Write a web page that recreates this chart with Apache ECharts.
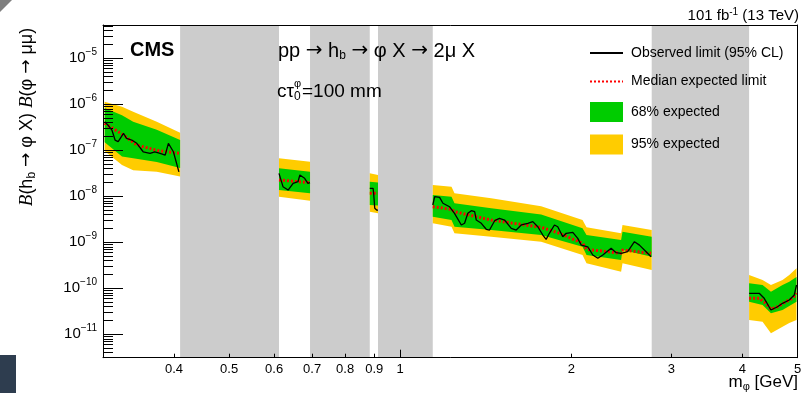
<!DOCTYPE html>
<html>
<head>
<meta charset="utf-8">
<script src="https://cdn.jsdelivr.net/npm/echarts@6/dist/echarts.min.js"></script>
<style>
  html, body { margin: 0; padding: 0; background: #fff; }
  #chart { width: 808px; height: 393px; }
</style>
</head>
<body>
<div id="chart"></div>
<script>
const FONT = '"Liberation Sans", Arial, Helvetica, sans-serif'

// mass windows that are masked (GeV)
const maskedRanges = [[0.41, 0.612], [0.694, 0.884], [0.914, 1.141], [2.77, 4.11]]

// observed limit, null separates the mass segments
const obsMass = [
  0.302, 0.306, 0.311, 0.315, 0.319, 0.326, 0.330, 0.337, 0.344, 0.353, 0.363, 0.370, 0.378, 0.386, 0.391, 0.399, 0.408, null,
  0.612, 0.622, 0.635, 0.648, 0.661, 0.666, 0.679, 0.688, 0.694, null,
  0.884, 0.887, 0.896, 0.898, 0.902, 0.910, 0.914, null,
  1.141, 1.150, 1.173, 1.189, 1.221, 1.246, 1.281, 1.298, 1.315, 1.334, 1.352, 1.361, 1.389, 1.417, 1.436,
  1.466, 1.495, 1.526, 1.568, 1.600, 1.633, 1.677, 1.711, 1.746, 1.782, 1.806, 1.830, 1.868, 1.893, 1.932,
  1.959, 2.012, 2.053, 2.082, 2.138, 2.182, 2.227, 2.272, 2.350, 2.398, 2.447, 2.513, 2.583, 2.636, 2.708, 2.763, null,
  4.11, 4.282, 4.369, 4.490, 4.612, 4.706, 4.836, 4.935, 4.98
]
const obsLimit = [
  4.19e-7, 3.55e-7, 2.76e-7, 1.67e-7, 1.54e-7, 2.34e-7, 1.82e-7, 1.67e-7, 1.42e-7, 9.3e-8, 8.6e-8, 9.3e-8, 8.6e-8, 7.9e-8, 1.42e-7, 9.3e-8, 3.4e-8, null,
  3.16e-8, 1.62e-8, 1.37e-8, 1.92e-8, 2.08e-8, 2.9e-8, 2.46e-8, 1.92e-8, 1.98e-8, null,
  1.49e-8, 1.49e-8, 1.49e-8, 1.16e-8, 5.5e-9, 5.0e-9, 5.0e-9, null,
  6.47e-9, 9.8e-9, 9.5e-9, 7.05e-9, 5.94e-9, 4.27e-9, 2.38e-9, 2.59e-9, 4.27e-9, 4.86e-9, 4.62e-9, 3.05e-9, 2.59e-9, 1.92e-9, 1.85e-9,
  2.95e-9, 3.32e-9, 3.05e-9, 2.01e-9, 1.85e-9, 2.38e-9, 2.59e-9, 2.81e-9, 2.18e-9, 1.44e-9, 1.16e-9, 1.57e-9, 2.38e-9, 2.18e-9, 1.32e-9,
  1.57e-9, 1.65e-9, 1.22e-9, 8.7e-10, 8.0e-10, 5.3e-10, 4.49e-10, 5.3e-10, 7.4e-10, 5.94e-10, 5.77e-10, 6.25e-10, 1.03e-9, 8.7e-10, 6.25e-10, 4.86e-10, null,
  7.79e-11, 7.79e-11, 6.06e-11, 3.38e-11, 3.98e-11, 4.72e-11, 5.57e-11, 7.15e-11, 1.18e-10
]

// median expected limit
const medMass = [
  0.302, 0.326, 0.344, 0.373, 0.408, null,
  0.612, 0.694, null,
  0.884, 0.914, null,
  1.141, 1.231, 1.246, 1.446, 1.776, 1.906, 2.093, 2.127, 2.447, 2.461, 2.763, null,
  4.11, 4.282, 4.400, 4.490, 4.612, 4.771, 4.901, 4.98
]
const medLimit = [
  3.87e-7, 2.15e-7, 1.30e-7, 1.0e-7, 8.6e-8, null,
  2.26e-8, 1.98e-8, null,
  1.16e-8, 1.16e-8, null,
  5.94e-9, 5.21e-9, 4.62e-9, 3.05e-9, 2.1e-9, 1.57e-9, 9.5e-10, 7.05e-10, 5.77e-10, 6.8e-10, 5.77e-10, null,
  6.06e-11, 6.06e-11, 4.72e-11, 3.49e-11, 3.98e-11, 5.12e-11, 6.06e-11, 7.79e-11
]

// expected bands
const bandMass = [
  0.302, 0.324, 0.339, 0.373, 0.41, null,
  0.612, 0.694, null,
  0.884, 0.914, null,
  1.141, 1.231, 1.246, 1.446, 1.77, 2.093, 2.127, 2.447, 2.461, 2.77, null,
  4.11, 4.34, 4.49, 4.706, 4.836, 4.98
]
const band95Hi = [
  1.14e-6, 8.9e-7, 6.9e-7, 4.2e-7, 2.4e-7, null,
  6.7e-8, 5.65e-8, null,
  3.16e-8, 2.9e-8, null,
  1.76e-8, 1.62e-8, 1.16e-8, 9.05e-9, 6.1e-9, 3.05e-9, 2.12e-9, 1.57e-9, 2.38e-9, 1.85e-9, null,
  1.95e-10, 1.51e-10, 1.18e-10, 1.51e-10, 1.95e-10, 2.72e-10
]
const band68Hi = [
  8.3e-7, 5.8e-7, 4.2e-7, 2.8e-7, 1.67e-7, null,
  4.06e-8, 3.43e-8, null,
  2.08e-8, 2.0e-8, null,
  1.07e-8, 9.8e-9, 7.05e-9, 5.48e-9, 4.0e-9, 2.01e-9, 1.44e-9, 1.12e-9, 1.70e-9, 1.32e-9, null,
  1.28e-10, 1.18e-10, 8.43e-11, 1.18e-10, 1.38e-10, 1.76e-10
]
const band68Lo = [
  1.5e-7, 7.3e-8, 6.7e-8, 5.6e-8, 4.1e-8, null,
  1.37e-8, 1.16e-8, null,
  6.5e-9, 6.3e-9, null,
  3.6e-9, 3.05e-9, 2.18e-9, 1.85e-9, 1.45e-9, 8.0e-10, 5.3e-10, 4.12e-10, 6.8e-10, 4.86e-10, null,
  5.12e-11, 4.34e-11, 2.86e-11, 3.38e-11, 4.12e-11, 5.12e-11
]
const band95Lo = [
  9.7e-8, 4.8e-8, 3.7e-8, 3.4e-8, 2.7e-8, null,
  9.8e-9, 8.0e-9, null,
  4.6e-9, 4.27e-9, null,
  2.59e-9, 2.18e-9, 1.57e-9, 1.32e-9, 1.03e-9, 5.3e-10, 3.49e-10, 2.3e-10, 3.49e-10, 2.5e-10, null,
  2.05e-11, 1.88e-11, 1.05e-11, 1.46e-11, 1.76e-11, 2.05e-11
]

const xTicks = [0.4, 0.5, 0.6, 0.7, 0.8, 0.9, 1, 2, 3, 4, 5]
const xLongTicks = [1]
const yDecades = [1e-11, 1e-10, 1e-9, 1e-8, 1e-7, 1e-6, 1e-5]

const xMin = 0.3, xMax = 5
const yMin = 3.1e-12, yMax = 5.3e-5

// minor ticks 2..9 in every decade
const yMinor = []
for (let k = -12; k <= -5; k++) {
  for (let d = 2; d <= 9; d++) yMinor.push(+(d + 'e' + k))
}

// index lists of each segment (split at null)
const bandSegments = []
let cur = []
bandMass.forEach((m, i) => {
  if (m == null) { bandSegments.push(cur); cur = [] } else cur.push(i)
})
if (cur.length) bandSegments.push(cur)

const toLine = (xs, ys) => xs.map((m, i) => m == null ? [null, null] : [m, ys[i]])

const bandSeries = (name, hi, lo, color, z) => ({
  name,
  type: 'custom',
  z,
  itemStyle: {color},
  data: bandSegments.map((seg, s) => [bandMass[seg[0]], hi[seg[0]], s]),
  encode: {x: 0, y: 1},
  renderItem(params, api) {
    const seg = bandSegments[api.value(2)]
    const pts = seg.map(i => api.coord([bandMass[i], hi[i]]))
    for (let k = seg.length - 1; k >= 0; k--) pts.push(api.coord([bandMass[seg[k]], lo[seg[k]]]))
    return {type: 'polygon', shape: {points: pts}, style: {fill: color}}
  }
})

const myChart = echarts.init(document.getElementById('chart'))

const sup = (txt) => '{e|' + txt + '}'
const ARROW = '{a|\u2192}'

myChart.setOption({
  animation: false,
  backgroundColor: '#fff',
  textStyle: {fontFamily: FONT},
  grid: {left: 103, right: 10.5, top: 25, bottom: 35.3},
  legend: {
    orient: 'vertical',
    left: 584,
    top: 40,
    itemWidth: 33,
    itemHeight: 20,
    itemGap: 12.5,
    selectedMode: false,
    textStyle: {fontSize: 14, color: '#000', fontFamily: FONT, padding: [0, 0, 0, 3]},
    data: [
      {name: 'Observed limit (95% CL)', itemStyle: {opacity: 0}},
      {name: 'Median expected limit', itemStyle: {opacity: 0}},
      {name: '68% expected', icon: 'rect'},
      {name: '95% expected', icon: 'rect'}
    ]
  },
  xAxis: [
    {
      type: 'log', min: xMin, max: xMax, position: 'bottom', z: 10,
      axisLine: {lineStyle: {color: '#000', width: 1}},
      axisTick: {inside: true, length: 4, customValues: xTicks, lineStyle: {color: '#000'}},
      axisLabel: {
        customValues: xTicks, color: '#000', fontSize: 13, margin: 5, fontFamily: FONT,
        formatter: v => String(+(+v).toPrecision(3))
      },
      splitLine: {show: false}
    },
    {
      type: 'log', min: xMin, max: xMax, position: 'bottom', z: 10,
      axisLine: {show: false},
      axisTick: {inside: true, length: 8, customValues: xLongTicks, lineStyle: {color: '#000'}},
      axisLabel: {show: false},
      splitLine: {show: false}
    },
    {
      type: 'log', min: xMin, max: xMax, position: 'top', z: 10,
      axisLine: {lineStyle: {color: '#000', width: 1}},
      axisTick: {show: false}, axisLabel: {show: false}, splitLine: {show: false}
    }
  ],
  yAxis: [
    {
      type: 'log', min: yMin, max: yMax, position: 'left', z: 10,
      axisLine: {lineStyle: {color: '#000', width: 1}},
      axisTick: {inside: true, length: 20, customValues: yDecades, lineStyle: {color: '#000'}},
      axisLabel: {
        customValues: yDecades, margin: 6, color: '#000',
        formatter(v) {
          const e = Math.round(Math.log10(v))
          return '{b|10}' + sup((e < 0 ? '\u2212' : '') + Math.abs(e))
        },
        rich: {
          b: {fontSize: 15, fontFamily: FONT, color: '#000'},
          e: {fontSize: 10, fontFamily: FONT, color: '#000', padding: [0, 0, 12, 0]}
        }
      },
      splitLine: {show: false}
    },
    {
      type: 'log', min: yMin, max: yMax, position: 'left', z: 10,
      axisLine: {show: false},
      axisTick: {inside: true, length: 10, customValues: yMinor, lineStyle: {color: '#000'}},
      axisLabel: {show: false},
      splitLine: {show: false}
    },
    {
      type: 'log', min: yMin, max: yMax, position: 'right', z: 10,
      axisLine: {lineStyle: {color: '#000', width: 1}},
      axisTick: {show: false}, axisLabel: {show: false}, splitLine: {show: false}
    }
  ],
  graphic: [
    {type: 'polygon', shape: {points: [[0, 0], [12, 0], [0, 12]]}, style: {fill: '#7f7f7f'}, z: 100},
    {type: 'rect', shape: {x: 0, y: 355, width: 16, height: 38}, style: {fill: '#2e3d4f'}, z: 100},
    {
      type: 'text', x: 130, y: 50, z: 100,
      style: {text: 'CMS', font: 'bold 20px ' + FONT, fill: '#000', verticalAlign: 'middle'}
    },
    {
      type: 'text', x: 278, y: 51, z: 100,
      style: {
        text: 'pp ' + ARROW + ' h{s|b} ' + ARROW + ' \u03c6 X ' + ARROW + ' 2\u03bc X', fill: '#000',
        font: '20px ' + FONT, verticalAlign: 'middle',
        rich: {
          s: {fontSize: 12, fontFamily: FONT, padding: [9, 0, 0, 0]},
          a: {fontSize: 20, fontFamily: '"DejaVu Sans", sans-serif'}
        }
      }
    },
    {
      type: 'text', x: 277, y: 92, z: 100,
      style: {text: 'c\u03c4', fill: '#000', font: '19px ' + FONT, verticalAlign: 'middle'}
    },
    {
      type: 'text', x: 294, y: 84, z: 100,
      style: {text: '\u03c6', fill: '#000', font: '11px ' + FONT, verticalAlign: 'middle'}
    },
    {
      type: 'text', x: 294, y: 97, z: 100,
      style: {text: '0', fill: '#000', font: '12px ' + FONT, verticalAlign: 'middle'}
    },
    {
      type: 'text', x: 302, y: 92, z: 100,
      style: {text: '=100 mm', fill: '#000', font: '19px ' + FONT, verticalAlign: 'middle'}
    },
    {
      type: 'text', x: 799, y: 16, z: 100,
      style: {
        text: '101 fb{e|-1} (13 TeV)', fill: '#000', font: '15px ' + FONT,
        align: 'right', verticalAlign: 'middle',
        rich: {e: {fontSize: 10, fontFamily: FONT, padding: [0, 0, 8, 0]}}
      }
    },
    {
      type: 'text', x: 798, y: 382, z: 100,
      style: {
        text: 'm{s|\u03c6} [GeV]', fill: '#000', font: '17px ' + FONT,
        align: 'right', verticalAlign: 'middle',
        rich: {s: {fontSize: 11, fontFamily: FONT, padding: [9, 0, 0, 0]}}
      }
    },
    {
      type: 'text', x: 27, y: 117, z: 100, rotation: Math.PI / 2,
      style: {
        text: '{i|B}(h{s|b} ' + ARROW + ' \u03c6 X) {i|B}(\u03c6 ' + ARROW + ' \u03bc\u03bc)', fill: '#000',
        font: '18px ' + FONT, align: 'center', verticalAlign: 'middle',
        rich: {
          i: {fontSize: 19, fontFamily: '"Liberation Serif", serif', fontStyle: 'italic'},
          s: {fontSize: 12, fontFamily: FONT, padding: [9, 0, 0, 0]},
          a: {fontSize: 17, fontFamily: '"DejaVu Sans", sans-serif'}
        }
      }
    }
  ],
  series: [
    {
      name: 'masked',
      type: 'custom',
      z: 1,
      silent: true,
      data: maskedRanges.map(r => [r[0], yMin, r[1]]),
      encode: {x: 0, y: 1},
      renderItem(params, api) {
        const p0 = api.coord([api.value(0), yMax])
        const p1 = api.coord([api.value(2), yMin])
        return {type: 'rect', shape: {x: p0[0], y: p0[1], width: p1[0] - p0[0], height: p1[1] - p0[1]}, style: {fill: '#cccccc'}}
      }
    },
    bandSeries('95% expected', band95Hi, band95Lo, '#ffcc00', 2),
    bandSeries('68% expected', band68Hi, band68Lo, '#00cc00', 3),
    {
      name: 'Median expected limit',
      type: 'line',
      z: 4,
      symbol: 'none',
      connectNulls: false,
      color: '#ff0000',
      lineStyle: {color: '#ff0000', width: 3, type: [2, 2]},
      data: toLine(medMass, medLimit)
    },
    {
      name: 'Observed limit (95% CL)',
      type: 'line',
      z: 5,
      symbol: 'none',
      connectNulls: false,
      color: '#000',
      lineStyle: {color: '#000', width: 1.3},
      data: toLine(obsMass, obsLimit)
    }
  ]
})
</script>
</body>
</html>
